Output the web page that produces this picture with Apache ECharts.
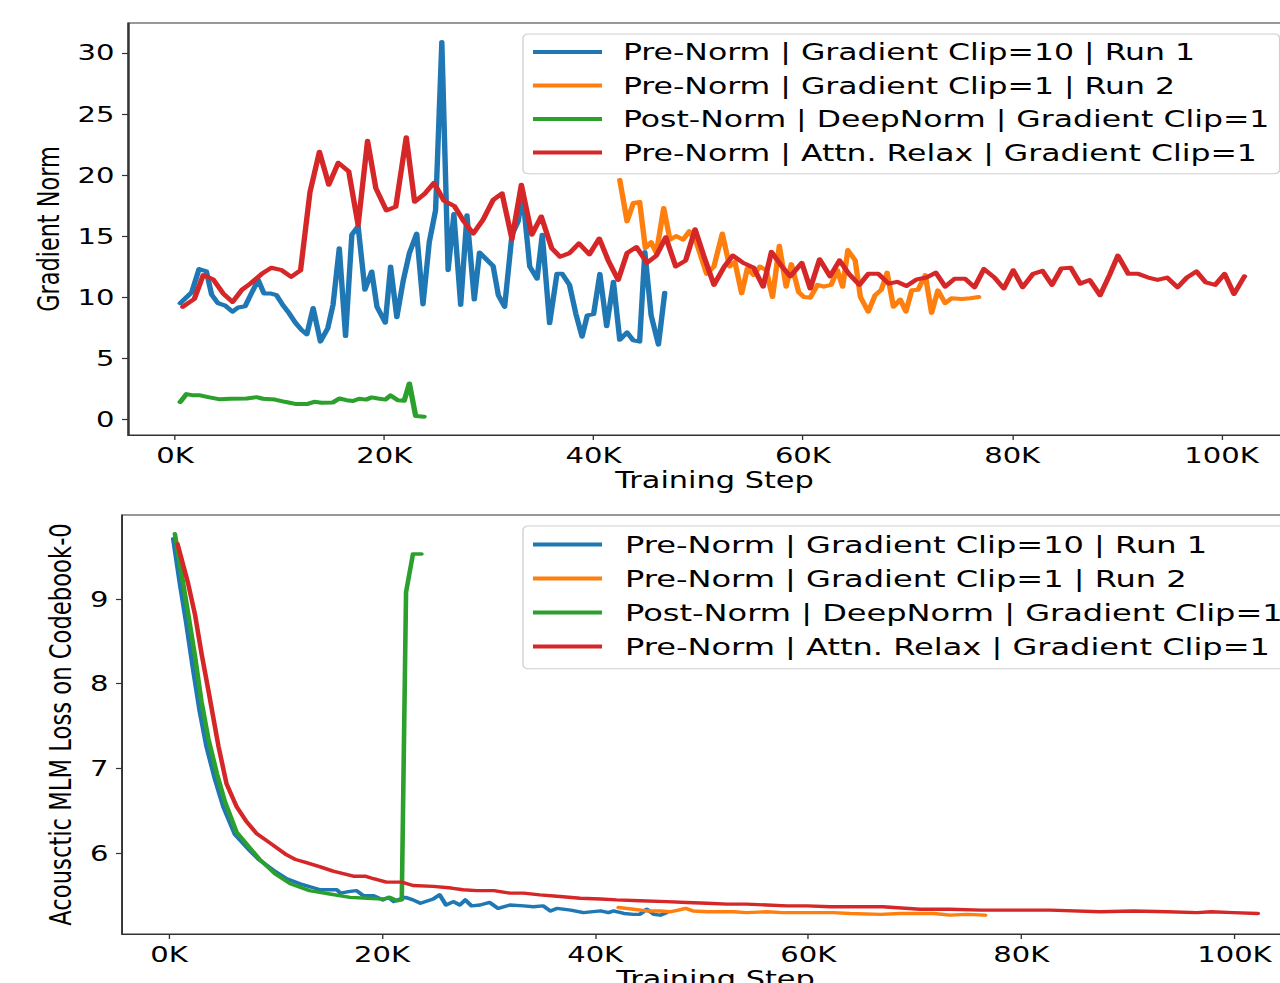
<!DOCTYPE html>
<html><head><meta charset="utf-8">
<script src="https://cdn.jsdelivr.net/npm/echarts@6/dist/echarts.min.js"></script>
<style>
html,body{margin:0;padding:0;background:#fff;overflow:hidden;width:1280px;height:983px;}
#chart{width:975px;height:983px;transform:scaleX(1.35);transform-origin:0 0;}
</style></head><body><div id="chart"></div>
<script>
// horizontal stretch of the reference figure
const SX = 1.35;

const seriesNames = [
  'Pre-Norm | Gradient Clip=10 | Run 1',
  'Pre-Norm | Gradient Clip=1 | Run 2',
  'Post-Norm | DeepNorm | Gradient Clip=1',
  'Pre-Norm | Attn. Relax | Gradient Clip=1'
];
const colors = ['#1f77b4', '#ff7f0e', '#2ca02c', '#d62728'];
const xTickValues = [0, 20, 40, 60, 80, 100];       // thousands of steps
const gradTickValues = [0, 5, 10, 15, 20, 25, 30];
const lossTickValues = [6, 7, 8, 9];

// ---- Gradient norm (top) : [step (K), norm] ----
const gradRun1 = [[0.5,9.5],[1.6,10.4],[2.3,12.3],[3.0,12.1],[3.5,10.2],[4.1,9.5],[4.8,9.3],[5.5,8.8],[6.05,9.15],[6.7,9.25],[7.3,10.3],[7.95,11.4],[8.5,10.3],[9.1,10.3],[9.7,10.15],[10.3,9.35],[10.8,8.8],[11.5,7.9],[12.1,7.3],[12.6,6.95],[13.2,9.1],[13.9,6.35],[14.6,7.45],[15.1,9.35],[15.7,14.0],[16.3,6.8],[16.9,15.1],[17.5,15.8],[18.15,10.6],[18.8,12.1],[19.3,9.2],[20.1,7.9],[20.6,12.5],[21.2,8.35],[21.8,11.3],[22.4,13.6],[23.1,15.2],[23.7,9.4],[24.3,14.5],[24.9,17.1],[25.5,30.9],[26.1,12.2],[26.65,16.8],[27.3,9.35],[27.9,16.7],[28.6,9.8],[29.1,13.65],[29.75,13.1],[30.4,12.55],[30.9,10.15],[31.5,9.2],[32.2,15.1],[32.8,16.2],[33.2,18.6],[33.9,12.5],[34.6,11.5],[35.1,15.1],[35.8,7.85],[36.5,11.9],[37.0,11.9],[37.7,11.0],[38.3,8.65],[38.9,6.75],[39.4,8.5],[40.0,8.6],[40.6,11.9],[41.25,7.6],[41.9,11.25],[42.5,6.5],[43.2,7.1],[43.8,6.45],[44.4,6.35],[44.9,13.7],[45.5,8.5],[46.2,6.1],[46.8,10.35]];
const gradRun2 = [[42.5,19.6],[43.2,16.2],[43.8,17.7],[44.4,17.8],[44.95,14.0],[45.5,14.5],[46.0,13.6],[46.7,17.3],[47.3,14.7],[47.9,15.0],[48.55,14.7],[49.15,15.4],[49.85,14.4],[50.8,11.9],[51.5,12.5],[52.3,15.2],[53.0,12.5],[53.5,12.9],[54.15,10.3],[54.7,12.35],[55.3,11.8],[55.9,12.5],[56.5,12.2],[57.1,10.0],[57.75,14.2],[58.4,10.85],[58.9,12.7],[59.6,10.4],[60.1,10.0],[60.7,9.95],[61.4,11.0],[62.0,10.85],[62.7,11.0],[63.3,12.2],[63.8,10.85],[64.3,13.85],[65.0,13.0],[65.5,10.0],[66.25,8.8],[66.9,10.15],[67.5,10.6],[68.05,12.0],[68.65,9.2],[69.3,9.8],[69.85,8.8],[70.4,10.55],[71.0,10.6],[71.7,11.8],[72.3,8.7],[72.9,10.55],[73.6,9.5],[74.2,9.9],[75.2,9.85],[76.0,9.9],[76.8,10.0]];
const gradPostNorm = [[0.5,1.4],[1.1,2.05],[1.75,1.95],[2.4,1.95],[3.3,1.78],[4.3,1.62],[5.25,1.67],[6.85,1.69],[7.8,1.8],[8.4,1.67],[9.55,1.6],[10.5,1.42],[11.6,1.23],[12.6,1.23],[13.3,1.42],[14.0,1.34],[15.1,1.37],[15.7,1.69],[16.4,1.55],[17.0,1.48],[17.6,1.67],[18.25,1.6],[18.8,1.78],[19.4,1.69],[20.1,1.6],[20.6,1.94],[21.3,1.55],[21.9,1.5],[22.4,2.92],[23.0,0.25],[23.8,0.2]];
const gradAttnRelax = [[0.75,9.2],[1.85,9.85],[2.7,11.8],[3.65,11.45],[4.6,10.3],[5.5,9.6],[6.4,10.6],[7.2,11.1],[8.3,11.9],[9.2,12.4],[10.2,12.2],[11.1,11.65],[12.0,12.2],[12.9,18.6],[13.8,21.9],[14.7,19.2],[15.6,21.0],[16.6,20.3],[17.5,15.9],[18.4,22.8],[19.2,18.9],[20.2,17.1],[21.1,17.4],[22.1,23.1],[22.9,17.8],[23.9,18.5],[24.75,19.35],[25.7,17.9],[26.7,17.45],[27.6,16.2],[28.5,15.2],[29.45,16.35],[30.4,17.95],[31.25,18.5],[32.2,14.75],[33.1,19.2],[34.1,15.1],[35.0,16.6],[36.0,14.0],[36.8,13.3],[37.7,13.6],[38.6,14.4],[39.6,13.5],[40.55,14.8],[41.4,13.0],[42.35,11.4],[43.2,13.6],[44.1,14.1],[45.1,12.8],[46.0,13.4],[46.9,14.9],[47.85,12.5],[48.8,13.0],[49.7,15.55],[50.6,13.2],[51.5,11.0],[52.5,12.5],[53.3,13.4],[54.3,12.8],[55.3,12.4],[56.2,10.85],[57.0,13.7],[58.0,12.5],[58.8,11.7],[59.9,12.8],[60.7,10.7],[61.6,13.1],[62.6,11.7],[63.5,13.0],[64.4,11.9],[65.4,11.0],[66.25,11.9],[67.2,11.9],[68.2,11.1],[69.0,11.25],[69.9,10.9],[70.9,11.45],[71.8,11.6],[72.7,12.0],[73.6,10.85],[74.5,11.5],[75.5,11.5],[76.4,10.8],[77.3,12.3],[78.3,11.6],[79.2,10.7],[80.1,12.2],[81.0,10.8],[82.0,11.9],[82.9,12.15],[83.8,11.0],[84.7,12.35],[85.6,12.4],[86.5,11.1],[87.4,11.4],[88.4,10.15],[89.3,11.8],[90.1,13.4],[91.1,11.9],[92.05,11.9],[93.0,11.6],[93.9,11.4],[94.8,11.6],[95.8,10.8],[96.7,11.6],[97.6,12.1],[98.5,11.2],[99.4,11.0],[100.3,11.9],[101.2,10.25],[102.2,11.7]];

// ---- Acoustic MLM loss (bottom) : [step (K), loss] ----
const lossRun1 = [[0.4,9.71],[1.0,9.2],[1.6,8.73],[2.2,8.22],[2.85,7.7],[3.5,7.27],[4.3,6.88],[5.1,6.55],[6.2,6.22],[7.6,6.03],[8.4,5.93],[9.8,5.8],[11.05,5.7],[12.3,5.64],[14.2,5.57],[15.75,5.57],[16.1,5.53],[17.0,5.55],[17.6,5.56],[18.25,5.5],[19.2,5.5],[20.1,5.45],[20.6,5.48],[21.1,5.43],[21.7,5.46],[22.2,5.48],[22.9,5.45],[23.6,5.41],[24.8,5.46],[25.4,5.51],[26.0,5.39],[26.7,5.43],[27.3,5.39],[27.8,5.45],[28.4,5.38],[29.2,5.39],[30.1,5.42],[30.9,5.35],[32.0,5.39],[33.3,5.38],[34.2,5.37],[35.1,5.38],[35.8,5.32],[36.4,5.35],[37.7,5.33],[38.9,5.30],[40.5,5.32],[41.25,5.30],[41.7,5.32],[42.7,5.29],[43.6,5.28],[44.2,5.28],[44.85,5.34],[45.5,5.28],[46.1,5.27],[46.7,5.30]];
const lossRun2 = [[42.2,5.36],[43.6,5.34],[44.85,5.32],[46.1,5.32],[47.0,5.31],[47.8,5.33],[48.5,5.35],[49.2,5.32],[50.5,5.31],[51.7,5.31],[53.0,5.31],[54.2,5.30],[56.1,5.31],[57.6,5.30],[59.2,5.30],[60.8,5.30],[62.3,5.30],[63.9,5.29],[66.8,5.28],[68.6,5.29],[71.8,5.29],[73.3,5.27],[74.9,5.28],[76.6,5.27]];
const lossPostNorm = [[0.55,9.77],[1.2,9.28],[1.8,8.83],[2.45,8.32],[3.05,7.79],[3.7,7.35],[4.5,6.94],[5.25,6.61],[6.35,6.25],[7.75,6.04],[8.5,5.93],[9.95,5.76],[11.4,5.64],[13.2,5.56],[15.1,5.52],[17.0,5.48],[18.6,5.47],[20.1,5.46],[20.75,5.48],[21.4,5.44],[21.85,5.45],[22.25,9.08],[22.9,9.53],[23.7,9.53]];
const lossAttnRelax = [[0.8,9.65],[1.8,9.18],[2.45,8.81],[3.05,8.36],[3.7,7.92],[4.65,7.26],[5.4,6.82],[6.35,6.55],[7.3,6.37],[8.25,6.23],[9.5,6.12],[11.05,5.98],[11.8,5.93],[12.9,5.89],[14.2,5.84],[15.4,5.79],[17.3,5.73],[18.4,5.73],[19.2,5.70],[20.4,5.66],[21.85,5.66],[22.9,5.62],[24.8,5.61],[26.5,5.59],[27.6,5.57],[28.9,5.56],[30.5,5.56],[32.0,5.53],[33.3,5.53],[34.8,5.51],[36.7,5.49],[38.6,5.47],[40.5,5.46],[42.0,5.45],[44.2,5.44],[46.7,5.43],[48.6,5.42],[50.5,5.41],[52.4,5.40],[54.2,5.40],[56.1,5.39],[58.0,5.38],[59.9,5.38],[62.1,5.37],[64.9,5.37],[67.0,5.37],[70.5,5.34],[73.3,5.34],[76.2,5.33],[78.1,5.33],[82.7,5.33],[87.4,5.31],[90.5,5.32],[93.7,5.31],[96.5,5.30],[97.8,5.31],[99.9,5.30],[102.2,5.29]];

const topData = [gradRun1, gradRun2, gradPostNorm, gradAttnRelax];
const bottomData = [lossRun1, lossRun2, lossPostNorm, lossAttnRelax];

const FONT = 'DejaVu Sans';
const axisColor = '#333';
const px = v => v / SX; // convert horizontal reference pixels to chart units

function xAxisDef(grid, min, max) {
  return {
    gridIndex: grid, type: 'value', min: min, max: max,
    axisLine: { show: true, onZero: false, lineStyle: { color: axisColor, width: 1.2 } },
    axisTick: { show: true, customValues: xTickValues, length: 5, lineStyle: { color: axisColor, width: 1 } },
    axisLabel: { customValues: xTickValues, formatter: v => v + 'K', fontSize: 21.5, fontFamily: FONT, color: '#000', margin: 9 },
    splitLine: { show: false },
    name: 'Training Step', nameLocation: 'middle', nameGap: 33,
    nameTextStyle: { fontSize: 22.5, fontFamily: FONT, color: '#000' }
  };
}
function yAxisDef(grid, min, max, ticks, name, gap, fs) {
  return {
    gridIndex: grid, type: 'value', min: min, max: max,
    axisLine: { show: true, onZero: false, lineStyle: { color: axisColor, width: 1.2 } },
    axisTick: { show: true, customValues: ticks, length: px(6), lineStyle: { color: axisColor, width: 1.2 } },
    axisLabel: { customValues: ticks, fontSize: 21.5, fontFamily: FONT, color: '#000', margin: px(13.5) },
    splitLine: { show: false },
    name: name, nameLocation: 'middle', nameRotate: 90, nameGap: gap,
    nameTextStyle: { fontSize: fs, fontFamily: FONT, color: '#000' }
  };
}
function legendDef(top, pad, gap, fs, textPad) {
  return {
    data: seriesNames, orient: 'vertical', left: px(523), top: top,
    icon: 'rect', itemWidth: px(69), itemHeight: 4, itemGap: gap,
    padding: [pad[0], px(10), pad[1], px(10)],
    backgroundColor: 'rgba(255,255,255,0.85)', borderColor: '#cfcfcf', borderWidth: 1, borderRadius: 4,
    selectedMode: false,
    textStyle: { fontSize: fs, fontFamily: FONT, color: '#000', lineHeight: 27, padding: [0, 0, 0, textPad] }
  };
}

const series = [];
topData.forEach((d, i) => series.push({
  name: seriesNames[i], type: 'line', xAxisIndex: 0, yAxisIndex: 0, data: d,
  showSymbol: false, symbol: 'none', silent: true, color: colors[i],
  lineStyle: { width: 4, color: colors[i], join: 'round', cap: 'round' }
}));
bottomData.forEach((d, i) => series.push({
  name: seriesNames[i], type: 'line', xAxisIndex: 1, yAxisIndex: 1, data: d,
  showSymbol: false, symbol: 'none', silent: true, color: colors[i],
  lineStyle: { width: 3.4, color: colors[i], join: 'round', cap: 'round' }
}));

const chart = echarts.init(document.getElementById('chart'), null, { renderer: 'svg' });
chart.setOption({
  animation: false,
  backgroundColor: '#fff',
  grid: [
    { left: px(128), top: 23, width: px(1301 - 128), height: 412, show: true, borderColor: axisColor, borderWidth: 1.2, containLabel: false, outerBoundsMode: 'none' },
    { left: px(122), top: 515, width: px(1309 - 122), height: 419, show: true, borderColor: axisColor, borderWidth: 1.2, containLabel: false, outerBoundsMode: 'none' }
  ],
  xAxis: [ xAxisDef(0, -4.49, 107.6), xAxisDef(1, -4.41, 107.0) ],
  yAxis: [
    yAxisDef(0, -1.3, 32.45, gradTickValues, 'Gradient Norm', px(64) - 4, 22.4),
    yAxisDef(1, 5.048, 9.99, lossTickValues, 'Acousctic MLM Loss on Codebook-0', px(44) - 4, 22.7)
  ],
  legend: [
    legendDef(34, [4.5, 7.8], 6.5, 23.35, 10.5),
    legendDef(526, [5, 8.8], 7, 23.75, 12)
  ],
  series: series
});
</script></body></html>
